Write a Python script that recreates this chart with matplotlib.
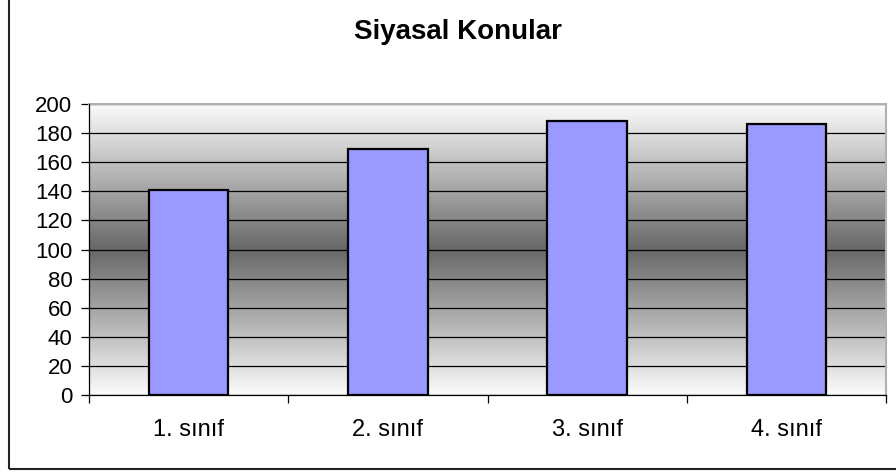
import numpy as np
import matplotlib
matplotlib.use("Agg")
import matplotlib.pyplot as plt
from matplotlib.colors import LinearSegmentedColormap
from matplotlib.patches import Rectangle

title = "Siyasal Konular"
categories = ["1. sınıf", "2. sınıf", "3. sınıf", "4. sınıf"]
values = [141, 169, 188, 186]

plt.rcParams['font.family'] = ['Liberation Sans', 'DejaVu Sans']

fig = plt.figure(figsize=(8.96, 4.72), dpi=100)
ax = fig.add_axes([89/896, 1-395/472, (886-89)/896, (395-104)/472])

# background gradient: light at top and bottom, dark in the middle
cmap = LinearSegmentedColormap.from_list("bg", [(0, "#fbfbfb"), (0.5, "#686868"), (1, "#fbfbfb")])
grad = np.linspace(0, 1, 300).reshape(-1, 1)
ax.imshow(grad, aspect="auto", cmap=cmap, extent=[0, 1, 0, 1],
          transform=ax.transAxes, zorder=0, interpolation="bicubic")

x = np.arange(len(categories))
ax.bar(x, values, width=0.4, color="#9999ff", edgecolor="black", linewidth=1.6, zorder=3)

ax.set_xlim(-0.5, len(categories) - 0.5)
ax.set_ylim(0, 200)
ax.set_yticks(range(0, 201, 20))
ax.yaxis.grid(True, color="black", linewidth=0.9, zorder=1)
ax.set_axisbelow(True)

ax.set_xticks(np.arange(-0.5, len(categories), 1.0))
ax.set_xticklabels([])
ax.set_xticks(x, minor=True)
ax.set_xticklabels(categories, minor=True)
ax.tick_params(axis="x", which="major", direction="out", length=6, width=0.9)
ax.tick_params(axis="x", which="minor", length=0, pad=17, labelsize=17)
ax.tick_params(axis="y", direction="out", length=6, width=0.9, pad=6, labelsize=16)

for s in ["top", "right"]:
    ax.spines[s].set_color("#b0b0b0")
    ax.spines[s].set_linewidth(1.5)
for s in ["left", "bottom"]:
    ax.spines[s].set_color("black")
    ax.spines[s].set_linewidth(0.9)
    ax.spines[s].set_zorder(4)

fig.text(458/896, 1 - 39/472, title, ha="center", va="baseline", fontsize=20, fontweight="bold")

# chart area border
fig.patches.append(Rectangle((9/896, 3.5/472), 1.2, 1.2, transform=fig.transFigure,
                             fill=False, edgecolor="#222222", linewidth=1.5, clip_on=False))

fig.savefig("out.png", dpi=100)
